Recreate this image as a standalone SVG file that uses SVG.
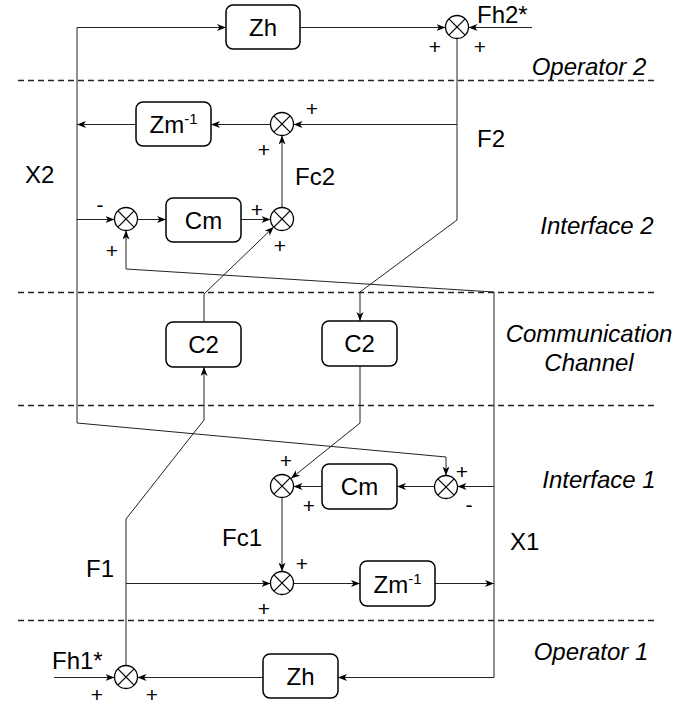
<svg xmlns="http://www.w3.org/2000/svg" width="697" height="711" viewBox="0 0 697 711">
<style>
.bg{fill:#fff}
.sep{stroke:#222;stroke-width:1.5;stroke-dasharray:6 4;fill:none}
.box{fill:#fff;stroke:#000;stroke-width:1.5}
.sum{fill:#fff;stroke:#000;stroke-width:1.3}
.x{stroke:#000;stroke-width:1.2}
.c{fill:none;stroke:#222;stroke-width:1}
.t{font-family:"Liberation Sans",Arial,sans-serif;font-size:24px;fill:#000}
.n{text-anchor:middle}
.sec{font-family:"Liberation Sans",Arial,sans-serif;font-size:24px;font-style:italic;fill:#000;text-anchor:middle}
.s{font-family:"Liberation Sans",Arial,sans-serif;font-size:21px;fill:#000;text-anchor:middle}
</style>
<defs>
<marker id="arr" markerUnits="userSpaceOnUse" markerWidth="10" markerHeight="8" refX="9" refY="3.5" orient="auto">
<path d="M0,0 L9,3.5 L0,7 L2.5,3.5 Z" fill="#000"/>
</marker>
<g id="sumShape">
<circle class="sum" cx="0" cy="0" r="11.5"/>
<line class="x" x1="-8.1" y1="-8.1" x2="8.1" y2="8.1"/>
<line class="x" x1="-8.1" y1="8.1" x2="8.1" y2="-8.1"/>
</g>
</defs>
<rect class="bg" x="0" y="0" width="697" height="711"/>

<g id="separators">
<line class="sep" x1="18" y1="80.5" x2="658" y2="80.5"/>
<line class="sep" x1="18" y1="292.5" x2="658" y2="292.5"/>
<line class="sep" x1="18" y1="405.5" x2="658" y2="405.5"/>
<line class="sep" x1="18" y1="620.5" x2="658" y2="620.5"/>
</g>

<g id="section-labels">
<text class="sec" x="589" y="75">Operator 2</text>
<text class="sec" x="597" y="234">Interface 2</text>
<text class="sec" x="589" y="342">Communication</text>
<text class="sec" x="589" y="371">Channel</text>
<text class="sec" x="599" y="488">Interface 1</text>
<text class="sec" x="591" y="660">Operator 1</text>
</g>

<g id="connectors">
<!-- X2 line -->
<path class="c" d="M77,423 L77,27.5 L226,27.5" marker-end="url(#arr)"/>
<path class="c" d="M77,423 L446,457 L446,475.5" marker-end="url(#arr)"/>
<path class="c" d="M136,124.5 L77,124.5" marker-end="url(#arr)"/>
<path class="c" d="M77,219.5 L114.5,219.5" marker-end="url(#arr)"/>
<path class="c" d="M137.5,219.5 L166,219.5" marker-end="url(#arr)"/>
<path class="c" d="M241,219.5 L270.5,219.5" marker-end="url(#arr)"/>
<path class="c" d="M282,207.5 L282,135.5" marker-end="url(#arr)"/>
<path class="c" d="M457,124.5 L293.5,124.5" marker-end="url(#arr)"/>
<path class="c" d="M270.5,124.5 L211,124.5" marker-end="url(#arr)"/>
<!-- F2 -->
<path class="c" d="M457,38.5 L457,220 L360,292 L360,321" marker-end="url(#arr)"/>
<!-- top operator 2 -->
<path class="c" d="M300,27.5 L445.5,27.5" marker-end="url(#arr)"/>
<path class="c" d="M532,27.5 L468.5,27.5" marker-end="url(#arr)"/>
<!-- X1 line -->
<path class="c" d="M494,292 L126,269 L126,230.5" marker-end="url(#arr)"/>
<path class="c" d="M494,292 L494,677.5 L338,677.5" marker-end="url(#arr)"/>
<path class="c" d="M494,486.5 L457.5,486.5" marker-end="url(#arr)"/>
<path class="c" d="M435,583.5 L494,583.5" marker-end="url(#arr)"/>
<!-- interface 1 -->
<path class="c" d="M434.5,486.5 L397,486.5" marker-end="url(#arr)"/>
<path class="c" d="M322,486.5 L293.5,486.5" marker-end="url(#arr)"/>
<path class="c" d="M360,366 L360,423 L291,478.5" marker-end="url(#arr)"/>
<path class="c" d="M282,498 L282,571.5" marker-end="url(#arr)"/>
<path class="c" d="M126,583.5 L270.5,583.5" marker-end="url(#arr)"/>
<path class="c" d="M293.5,583.5 L360,583.5" marker-end="url(#arr)"/>
<!-- F1 -->
<path class="c" d="M126,665.5 L126,519 L204,420 L204,367" marker-end="url(#arr)"/>
<path class="c" d="M204,322 L204,294 L273.7,227" marker-end="url(#arr)"/>
<!-- operator 1 -->
<path class="c" d="M263,677.5 L137.5,677.5" marker-end="url(#arr)"/>
<path class="c" d="M54,677.5 L114.5,677.5" marker-end="url(#arr)"/>
</g>

<g id="Zh2"><rect class="box" x="226" y="5" width="74" height="44" rx="7"/><text class="t n" x="263" y="36">Zh</text></g>
<g id="Zm2"><rect class="box" x="136" y="102" width="75" height="44" rx="7"/><text class="t n" x="173.5" y="133">Zm<tspan font-size="15" dy="-9">-1</tspan></text></g>
<g id="Cm2"><rect class="box" x="166" y="198" width="75" height="44" rx="7"/><text class="t n" x="203.5" y="229">Cm</text></g>
<g id="C2a"><rect class="box" x="166" y="322" width="75" height="45" rx="7"/><text class="t n" x="203.5" y="353">C2</text></g>
<g id="C2b"><rect class="box" x="322" y="321" width="75" height="45" rx="7"/><text class="t n" x="359.5" y="352">C2</text></g>
<g id="Cm1"><rect class="box" x="322" y="464" width="75" height="45" rx="7"/><text class="t n" x="359.5" y="495">Cm</text></g>
<g id="Zm1"><rect class="box" x="360" y="561" width="75" height="45" rx="7"/><text class="t n" x="397.5" y="593">Zm<tspan font-size="15" dy="-9">-1</tspan></text></g>
<g id="Zh1"><rect class="box" x="263" y="654" width="75" height="44" rx="7"/><text class="t n" x="300.5" y="685">Zh</text></g>

<g id="sumTop"><use href="#sumShape" x="457" y="27"/><text class="s" x="435" y="54">+</text><text class="s" x="480" y="54">+</text></g>
<g id="sumI2Top"><use href="#sumShape" x="282" y="124"/><text class="s" x="312" y="116">+</text><text class="s" x="264" y="157">+</text></g>
<g id="sumI2Left"><use href="#sumShape" x="126" y="219"/><text class="s" x="100" y="212">-</text><text class="s" x="112" y="258">+</text></g>
<g id="sumI2Right"><use href="#sumShape" x="282" y="219"/><text class="s" x="257" y="217">+</text><text class="s" x="280" y="253">+</text></g>
<g id="sumI1Right"><use href="#sumShape" x="446" y="487"/><text class="s" x="462" y="479">+</text><text class="s" x="469" y="512">-</text></g>
<g id="sumI1Left"><use href="#sumShape" x="282" y="486"/><text class="s" x="286" y="468">+</text><text class="s" x="309" y="513">+</text></g>
<g id="sumI1Bottom"><use href="#sumShape" x="282" y="583"/><text class="s" x="302" y="571">+</text><text class="s" x="264" y="616">+</text></g>
<g id="sumOp1"><use href="#sumShape" x="126" y="677"/><text class="s" x="97" y="702">+</text><text class="s" x="152" y="702">+</text></g>

<g id="signal-labels">
<text class="t" x="477" y="23">Fh2*</text>
<text class="t" x="477" y="147">F2</text>
<text class="t" x="25" y="183">X2</text>
<text class="t" x="295" y="185">Fc2</text>
<text class="t" x="222" y="546">Fc1</text>
<text class="t" x="86" y="577">F1</text>
<text class="t" x="510" y="550">X1</text>
<text class="t" x="52" y="669">Fh1*</text>
</g>
</svg>
